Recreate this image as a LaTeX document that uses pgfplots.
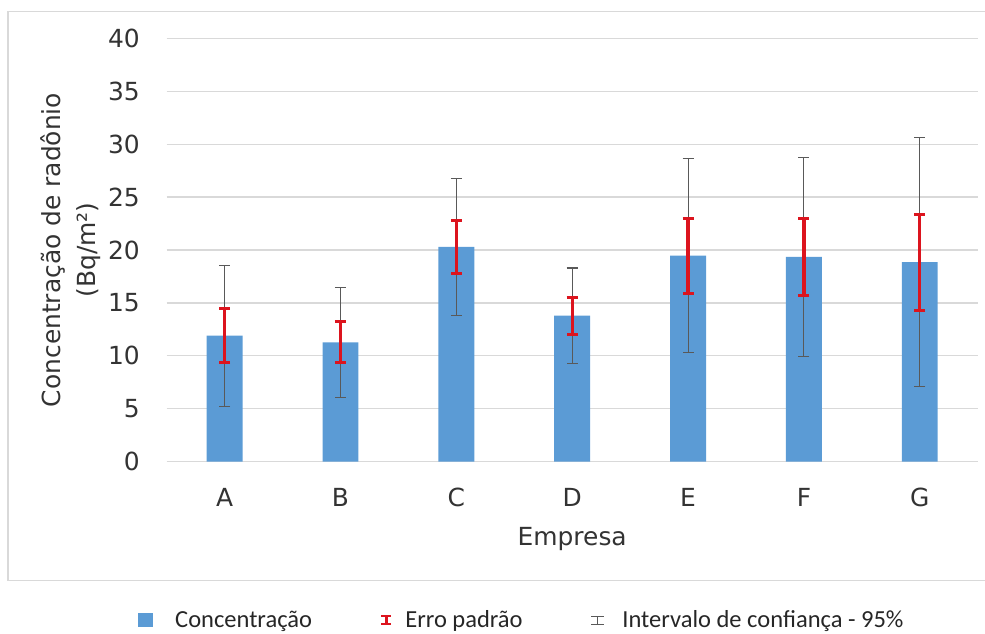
\documentclass[border=0pt]{standalone}
\usepackage{fontspec}
\setmainfont{DejaVu Sans}
\newfontfamily\legfont{Carlito}
\usepackage{pgfplots}
\pgfplotsset{compat=1.18}
\usepackage{pgfplotstable}
\definecolor{barblue}{HTML}{5B9BD5}
\definecolor{errred}{RGB}{220,20,30}
\definecolor{cigray}{HTML}{595959}
\definecolor{gridgray}{HTML}{D9D9D9}

\pgfplotstableread{
x y se ci
0 11.90 2.53 6.65
1 11.28 1.95 5.20
2 20.30 2.49 6.45
3 13.80 1.75 4.50
4 19.47 3.55 9.15
5 19.35 3.63 9.42
6 18.85 4.53 11.74
}\data

\begin{document}
\begin{tikzpicture}
\path[use as bounding box] (0,0) rectangle (985bp,634bp);
\draw[gridgray, line width=1.2bp] (990bp,622.3bp) -- (8bp,622.3bp) -- (8bp,53.3bp) -- (990bp,53.3bp);
\begin{axis}[
  at={(166.7bp,172.3bp)}, anchor=south west,
  scale only axis, width=811bp, height=423.4bp,
  xmin=-0.5, xmax=6.5, ymin=0, ymax=40,
  ytick={0,5,...,40}, xtick={0,...,6}, xticklabels={A,B,C,D,E,F,G},
  axis line style={draw=none},
  tick style={draw=none}, major tick length=0pt,
  ymajorgrids, grid style={gridgray, line width=1.2bp},
  /pgf/number format/assume math mode=true,
  ticklabel style={font=\fontsize{25}{30}\selectfont, text=black!80},
  yticklabel style={anchor=east, inner sep=0pt, xshift=-26.7bp},
  xticklabel style={anchor=north, inner sep=0pt, yshift=-26.5bp},
  xlabel={Empresa},
  xlabel style={at={(axis description cs:0.5,0)}, anchor=north, inner sep=0pt, yshift=-65bp, font=\fontsize{25}{30}\selectfont, text=black!80},
  ylabel={Concentração de radônio\\(Bq/m²)},
  ylabel style={at={(axis description cs:-0.081,0.5)}, anchor=south, inner sep=0pt, align=center, font=\fontsize{25}{35}\selectfont, text=black!80},
  legend columns=3,
  legend style={at={(axis description cs:-0.0354,-0.374)}, anchor=west, draw=none, fill=none, inner sep=0pt,
    font=\legfont\fontsize{24.6}{30}\selectfont, text=black!85,
    nodes={inner sep=0pt},
    /tikz/every odd column/.append style={column sep=0pt},
    /tikz/every even column/.append style={column sep=68bp}},
]
\addplot[ybar, bar width=0.31, fill=barblue, draw=none,
  legend image code/.code={\fill[barblue] (0bp,-7bp) rectangle (15bp,7bp); \path (37bp,0);}]
  table[x=x, y=y]{\data};
\addlegendentry{Concentração}
% 95% confidence interval (drawn first, behind the standard error)
\addplot[forget plot, draw=none, mark=none,
  error bars/.cd, y dir=both, y explicit, error mark=|,
  error bar style={draw=cigray, line width=1bp},
  error mark options={draw=cigray, line width=1.1bp, mark size=5.5bp}]
  table[x=x, y=y, y error=ci]{\data};
% standard error
\addplot[draw=none, mark=none,
  legend image code/.code={\draw[errred, line width=3bp] (5bp,-4bp) -- (5bp,4bp);
     \draw[errred, line width=2.5bp] (0bp,4bp) -- (10bp,4bp) (0bp,-4bp) -- (10bp,-4bp); \path (24bp,0);},
  error bars/.cd, y dir=both, y explicit, error mark=|,
  error bar style={draw=errred, line width=3.2bp},
  error mark options={draw=errred, line width=3bp, mark size=5.5bp}]
  table[x=x, y=y, y error=se]{\data};
\addlegendentry{Erro padrão}
\addlegendimage{legend image code/.code={\draw[cigray, line width=1bp] (6.5bp,-4bp) -- (6.5bp,4bp);
     \draw[cigray, line width=1bp] (0bp,4bp) -- (13bp,4bp) (0bp,-4bp) -- (13bp,-4bp); \path (31bp,0);}}
\addlegendentry{Intervalo de confiança - 95\%}
\end{axis}
\end{tikzpicture}
\end{document}
